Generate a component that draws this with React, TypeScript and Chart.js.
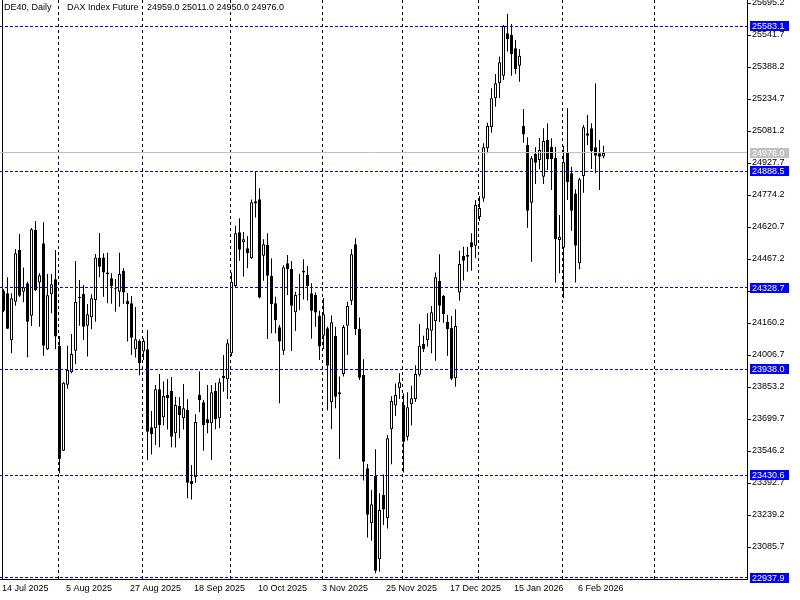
import React, { useEffect, useRef } from "react";
import { Chart, registerables } from "chart.js";

Chart.register(...registerables);

// ---- Data (DE40 daily candles) ----
const openPrices = [
  24315, 24303, 24077, 24262, 24510, 24310, 24351, 24195, 24606, 24354,
  24543, 24034, 24298, 24370, 24050, 23548, 23864, 23924, 24027, 24280,
  24299, 24147, 24188, 24271, 24475, 24475, 24402, 24375, 24327, 24310,
  24410, 24266, 24255, 24034, 24074, 24023, 24034, 23660, 23655, 23843,
  23708, 23815, 23834, 23631, 23762, 23703, 23743, 23402, 23420, 23815,
  23780, 23698, 23679, 23834, 23703, 23906, 23890, 24015, 24338, 24595,
  24547, 24519, 24471, 24744, 24754, 24483, 24534, 24387, 24255, 24140,
  24027, 24447, 24419, 24212, 24293, 24410, 24391, 24303, 24295, 24194,
  24099, 24135, 23780, 24098, 23818, 23916, 24147, 24267, 24538, 24132,
  23911, 23463, 23200, 23426, 23027, 23335, 23224, 23650, 23764, 23847,
  23767, 23615, 23771, 23796, 23912, 24059, 24079, 24123, 24168, 24362,
  24290, 24166, 24136, 23895, 24306, 24482, 24486, 24548, 24531, 24669,
  24758, 24998, 25099, 25238, 25310, 25346, 25550, 25542, 25478, 25394,
  25105, 25014, 24737, 24971, 24942, 24862, 25038, 25006, 24953, 24558,
  24521, 24979, 24878, 24782, 24447, 24865, 25070, 25094, 25003, 24974,
  24959,
];
const highPrices = [
  24323, 24380, 24303, 24515, 24587, 24426, 24358, 24616, 24650, 24399,
  24643, 24395, 24395, 24510, 24098, 23877, 24051, 24108, 24458, 24367,
  24343, 24251, 24298, 24491, 24592, 24495, 24497, 24399, 24371, 24497,
  24423, 24304, 24290, 24237, 24082, 24087, 24127, 23738, 23863, 23916,
  23879, 23892, 23901, 23807, 23805, 23868, 23794, 23479, 23723, 23927,
  23791, 23863, 23863, 23874, 23895, 24007, 24082, 24402, 24627, 24663,
  24597, 24578, 24753, 24886, 24806, 24562, 24591, 24471, 24286, 24151,
  24437, 24486, 24458, 24310, 24395, 24466, 24434, 24351, 24306, 24220,
  24280, 24142, 24196, 24142, 23903, 24151, 24262, 24514, 24567, 24186,
  23986, 23484, 23359, 23555, 23343, 23434, 23623, 23809, 23870, 23919,
  23823, 23828, 23859, 23957, 24155, 24099, 24207, 24242, 24402, 24490,
  24295, 24199, 24194, 24226, 24507, 24526, 24526, 24591, 24750, 24769,
  25022, 25121, 25286, 25355, 25438, 25590, 25642, 25595, 25518, 25473,
  25187, 25051, 24961, 25003, 25048, 25094, 25118, 25046, 25006, 24678,
  25009, 25190, 24910, 24802, 24857, 25110, 25158, 25118, 25310, 25038,
  25011,
];
const lowPrices = [
  24213, 24131, 24015, 24243, 24285, 24260, 23996, 24146, 24314, 24142,
  24003, 24031, 24207, 24034, 23439, 23546, 23845, 23919, 23962, 24147,
  24079, 23999, 24130, 24166, 24380, 24286, 24255, 24253, 24214, 24238,
  24251, 24071, 24007, 23995, 23909, 23983, 23502, 23529, 23575, 23564,
  23668, 23649, 23564, 23563, 23607, 23649, 23319, 23314, 23394, 23732,
  23548, 23631, 23503, 23650, 23655, 23831, 23796, 24002, 24330, 24459,
  24383, 24423, 24467, 24666, 24278, 24363, 24084, 24111, 24111, 23775,
  24007, 24295, 24026, 24122, 24223, 24273, 24268, 24085, 24142, 23983,
  24036, 23741, 23652, 23751, 23508, 23903, 24007, 24247, 24103, 23887,
  23405, 23131, 23116, 22960, 22967, 23191, 23174, 23483, 23714, 23796,
  23443, 23596, 23668, 23781, 23903, 24021, 24047, 24015, 23979, 24165,
  24162, 24003, 23885, 23855, 24267, 24364, 24406, 24411, 24471, 24650,
  24742, 24974, 25073, 25198, 25238, 25326, 25462, 25346, 25355, 25318,
  25025, 24617, 24454, 24827, 24898, 24827, 24894, 24798, 24354, 24399,
  24279, 24750, 24603, 24354, 24418, 24785, 25014, 24899, 24878, 24798,
  24950,
];
const closePrices = [
  24219, 24133, 24279, 24495, 24291, 24332, 24166, 24610, 24319, 24389,
  24051, 24293, 24346, 24095, 23509, 23874, 23935, 24012, 24261, 24286,
  24142, 24202, 24279, 24475, 24430, 24402, 24394, 24338, 24322, 24395,
  24306, 24250, 24090, 24082, 23967, 24074, 23639, 23626, 23843, 23671,
  23810, 23799, 23615, 23767, 23718, 23751, 23394, 23387, 23685, 23790,
  23671, 23679, 23828, 23700, 23876, 23895, 24063, 24358, 24591, 24512,
  24562, 24495, 24739, 24734, 24282, 24538, 24387, 24250, 24175, 24071,
  24428, 24419, 24243, 24295, 24296, 24403, 24338, 24219, 24210, 24047,
  24202, 23955, 24164, 23807, 23828, 24141, 24242, 24490, 24132, 23898,
  23495, 23241, 23291, 22972, 23263, 23265, 23607, 23786, 23815, 23876,
  23591, 23756, 23799, 23915, 24051, 24034, 24135, 24212, 24380, 24243,
  24202, 24130, 23893, 24146, 24443, 24459, 24478, 24523, 24726, 24712,
  25003, 25105, 25238, 25310, 25411, 25585, 25521, 25449, 25377, 25442,
  25065, 24699, 24950, 24929, 24990, 25033, 24946, 24947, 24563, 24574,
  24931, 24835, 24699, 24531, 24850, 25099, 25059, 24985, 24963, 24958,
  24976,
];

const dateLabels = [
  "14 Jul 2025", "5 Aug 2025", "27 Aug 2025", "18 Sep 2025", "10 Oct 2025",
  "3 Nov 2025", "25 Nov 2025", "17 Dec 2025", "15 Jan 2026", "6 Feb 2026",
];
const dateLabelIndex = [0, 16, 32, 48, 64, 80, 96, 112, 128, 144];
const monthStartIndex = [14, 35, 57, 80, 100, 119, 140, 163];

const priceTicks = [
  25695.2, 25541.7, 25388.2, 25234.7, 25081.2, 24927.7, 24774.2, 24620.7,
  24467.2, 24313.7, 24160.2, 24006.7, 23853.2, 23699.7, 23546.2, 23392.7,
  23239.2, 23085.7,
];
const levelLines = [25583.1, 24888.5, 24328.7, 23938.0, 23430.6, 22937.9];

const symbolText = "DE40, Daily";
const descText = "DAX Index Future";

const Y_MIN = 22932.2;
const Y_MAX = 25709.6;
const X_MIN = -0.875;
const X_MAX = -0.875 + 747 / 4;

const FONT = "'Liberation Sans', Arial, sans-serif";

const overlayPlugin = {
  id: "mtOverlay",
  beforeDatasetsDraw(chart: any) {
    const { ctx, chartArea, scales } = chart;
    const x = scales.x;
    ctx.save();
    ctx.strokeStyle = "#000000";
    ctx.lineWidth = 1;
    // left frame
    ctx.beginPath();
    ctx.moveTo(2.5, chartArea.top);
    ctx.lineTo(2.5, chartArea.bottom);
    ctx.stroke();
    // month separators
    ctx.setLineDash([3, 3]);
    monthStartIndex.forEach((i) => {
      const px = Math.round(x.getPixelForValue(i - 0.25) - 0.5) + 0.5;
      ctx.beginPath();
      ctx.moveTo(px, chartArea.top);
      ctx.lineTo(px, chartArea.bottom);
      ctx.stroke();
    });
    ctx.restore();
  },
  afterDatasetsDraw(chart: any) {
    const { ctx, chartArea, scales } = chart;
    const y = scales.y;
    ctx.save();
    ctx.lineWidth = 1;
    // current price line
    const last = closePrices[closePrices.length - 1];
    const gy = Math.round(y.getPixelForValue(last) - 0.5) + 0.5;
    ctx.strokeStyle = "#C0C0C0";
    ctx.beginPath();
    ctx.moveTo(chartArea.left, gy);
    ctx.lineTo(chartArea.right, gy);
    ctx.stroke();
    // level lines
    ctx.strokeStyle = "#0000FF";
    ctx.setLineDash([3, 2]);
    levelLines.forEach((v) => {
      const py = Math.round(y.getPixelForValue(v) - 0.5) + 0.5;
      ctx.beginPath();
      ctx.moveTo(chartArea.left, py);
      ctx.lineTo(chartArea.right, py);
      ctx.stroke();
    });
    ctx.restore();
  },
  afterDraw(chart: any) {
    const { ctx, scales } = chart;
    const y = scales.y;
    ctx.save();
    ctx.font = `9px ${FONT}`;
    ctx.textBaseline = "middle";
    ctx.textAlign = "left";
    // header
    const n = closePrices.length - 1;
    ctx.fillStyle = "#000000";
    ctx.fillText(symbolText, 4, 8);
    ctx.fillText(descText, 67, 8);
    ctx.fillText(
      [openPrices[n], highPrices[n], lowPrices[n], closePrices[n]]
        .map((v) => v.toFixed(1))
        .join(" "),
      147,
      8
    );
    // price boxes
    const drawBox = (v: number, bg: string) => {
      const py = Math.round(y.getPixelForValue(v));
      ctx.fillStyle = bg;
      ctx.fillRect(750, py - 5, 39, 10);
      ctx.fillStyle = "#FFFFFF";
      ctx.fillText(v.toFixed(1), 752, py + 0.5);
    };
    levelLines.forEach((v) => drawBox(v, "#0000FF"));
    drawBox(closePrices[n], "#C0C0C0");
    ctx.restore();
  },
};

export default function App() {
  const canvasRef = useRef<HTMLCanvasElement | null>(null);

  useEffect(() => {
    const canvas = canvasRef.current;
    if (!canvas) return;
    const wicks = lowPrices.map((l, i) => ({ x: i, y: [l, highPrices[i]] }));
    const bodies = openPrices.map((o, i) => ({ x: i, y: [o, closePrices[i]] }));
    const bodyColors = openPrices.map((o, i) =>
      closePrices[i] >= o ? "#FFFFFF" : "#000000"
    );

    const chart = new Chart(canvas, {
      type: "bar",
      data: {
        datasets: [
          {
            label: "body",
            data: bodies as any,
            backgroundColor: bodyColors,
            borderColor: "#000000",
            borderWidth: 1,
            borderSkipped: false,
            barThickness: 3,
            minBarLength: 1,
            grouped: false,
            inflateAmount: 0,
            order: 0,
          } as any,
          {
            label: "wick",
            data: wicks as any,
            backgroundColor: "#000000",
            borderWidth: 0,
            barThickness: 1,
            grouped: false,
            inflateAmount: 0,
            order: 1,
          } as any,
        ],
      },
      options: {
        responsive: false,
        animation: false,
        devicePixelRatio: 1,
        layout: { padding: 0 },
        events: [],
        plugins: {
          legend: { display: false },
          tooltip: { enabled: false },
          title: { display: false },
        },
        scales: {
          x: {
            type: "linear",
            position: "bottom",
            min: X_MIN,
            max: X_MAX,
            offset: false,
            grid: { display: false, drawTicks: false },
            border: { display: true, color: "#000000", width: 1 },
            ticks: {
              autoSkip: false,
              maxRotation: 0,
              minRotation: 0,
              align: "start",
              padding: 4,
              color: "#000000",
              font: { family: FONT, size: 9 },
              callback: (_v: any, index: number) => dateLabels[index] ?? "",
            },
            afterBuildTicks: (s: any) => {
              s.ticks = dateLabelIndex.map((v) => ({ value: v - 0.375 }));
            },
            afterFit: (s: any) => {
              s.height = 21;
              s.paddingLeft = 0;
              s.paddingRight = 0;
            },
          } as any,
          y: {
            type: "linear",
            position: "right",
            min: Y_MIN,
            max: Y_MAX,
            grid: {
              drawOnChartArea: false,
              drawTicks: true,
              tickLength: 4,
              tickColor: "#000000",
              color: "#000000",
            },
            border: { display: true, color: "#000000", width: 1 },
            ticks: {
              padding: 1,
              color: "#000000",
              font: { family: FONT, size: 9 },
              callback: (v: any) => Number(v).toFixed(1),
            },
            afterBuildTicks: (s: any) => {
              s.ticks = priceTicks.map((v) => ({ value: v }));
            },
            afterFit: (s: any) => {
              s.width = 53;
              s.paddingTop = 0;
              s.paddingBottom = 0;
            },
          } as any,
        },
      },
      plugins: [overlayPlugin],
    });

    return () => chart.destroy();
  }, []);

  return (
    <div
      style={{
        position: "absolute",
        left: 0,
        top: 0,
        width: 800,
        height: 600,
        background: "#FFFFFF",
      }}
    >
      <canvas
        ref={canvasRef}
        width={800}
        height={600}
        style={{ display: "block", width: 800, height: 600 }}
      />
    </div>
  );
}
